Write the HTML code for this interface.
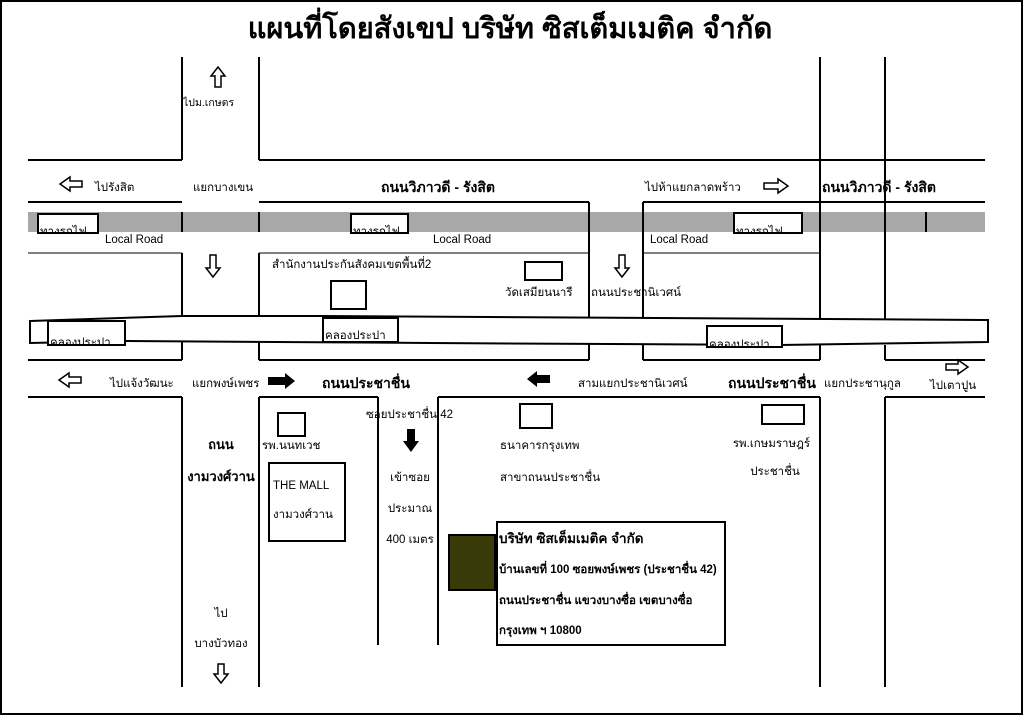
<!DOCTYPE html>
<html><head><meta charset="utf-8"><style>
html,body{margin:0;padding:0;background:#fff}
svg{display:block}
text{font-family:"Liberation Sans","DejaVu Sans",sans-serif;fill:#000}
.s{font-size:11.5px}
.b{font-size:14px;font-weight:bold}
.l{stroke:#000;stroke-width:2;fill:none}
.t{stroke:#000;stroke-width:1;fill:none}
.bx{stroke:#000;stroke-width:2;fill:#fff}
.oa{stroke:#000;stroke-width:1.5;fill:#fff}
</style></head><body>
<svg width="1024" height="717" viewBox="0 0 1024 717">
<rect x="1" y="1" width="1021" height="713" fill="#fff" stroke="#000" stroke-width="2"/>
<text x="510" y="38" text-anchor="middle" style="font-size:29px;font-weight:bold">แผนที่โดยสังเขป  บริษัท ซิสเต็มเมติค จำกัด</text>

<path class="l" d="M182 57V160M259 57V160M820 57V202M885 57V202"/>
<path class="l" d="M28 160H182M259 160H985"/>
<path class="l" d="M28 202H182M259 202H589M643 202H985"/>
<rect x="28" y="212" width="957" height="20" fill="#a8a8a8"/>
<path class="l" d="M182 212V232M259 212V232M589 202V253M643 202V253M820 202V253M885 202V253M926 212V232"/>
<path class="t" d="M28 253H182M259 253H589M643 253H820"/>
<path class="l" d="M182 253V318M259 253V318M589 253V320M643 253V320M820 253V320M885 253V320"/>
<polygon points="30,321 182,316 320,316 985,320 988,320 988,342 780,345 430,343 125,341 30,343" fill="#fff" stroke="#000" stroke-width="2"/>
<path class="l" d="M30 321V343"/>
<path class="l" d="M182 342V360M259 342V360M589 344V360M643 344V360M820 345V360M885 345V360"/>
<path class="l" d="M28 360H182M259 360H589M643 360H820M885 360H985"/>
<path class="l" d="M28 397H182M259 397H378M438 397H820M885 397H985"/>
<path class="l" d="M182 397V687M259 397V687M378 397V645M438 397V645M820 397V687M885 397V687"/>

<svg x="37" y="213" width="62" height="21"><rect x="1" y="1" width="60" height="19" class="bx"/><text x="3" y="22" class="s">ทางรถไฟ</text></svg>
<svg x="350" y="213" width="59" height="21"><rect x="1" y="1" width="57" height="19" class="bx"/><text x="3" y="22" class="s">ทางรถไฟ</text></svg>
<svg x="733" y="212" width="70" height="22"><rect x="1" y="1" width="68" height="20" class="bx"/><text x="3" y="23" class="s">ทางรถไฟ</text></svg>
<text x="105" y="243" class="s">Local  Road</text>
<text x="433" y="243" class="s">Local  Road</text>
<text x="650" y="243" class="s">Local  Road</text>

<svg x="47" y="320" width="79" height="26"><rect x="1" y="1" width="77" height="24" class="bx"/><text x="3" y="26" class="s">คลองประปา</text></svg>
<svg x="322" y="317" width="77" height="26"><rect x="1" y="1" width="75" height="24" class="bx"/><text x="3" y="22" class="s">คลองประปา</text></svg>
<svg x="706" y="325" width="77" height="23"><rect x="1" y="1" width="75" height="21" class="bx"/><text x="3" y="23" class="s">คลองประปา</text></svg>

<path class="oa" d="M60 184L70 177V181H82V187H70V191Z"/>
<text x="95" y="191" class="s">ไปรังสิต</text>
<text x="193" y="191" class="s">แยกบางเขน</text>
<text x="381" y="192" class="b">ถนนวิภาวดี - รังสิต</text>
<text x="645" y="191" class="s">ไปห้าแยกลาดพร้าว</text>
<path class="oa" d="M788 186L778 179V183H764V189H778V193Z"/>
<text x="822" y="192" class="b">ถนนวิภาวดี - รังสิต</text>

<path class="oa" d="M218 67L225 76H221V87H215V76H211Z"/>
<text x="183" y="106" style="font-size:10.5px">ไปม.เกษตร</text>

<path class="oa" d="M213 277L206 268H210V255H216V268H220Z"/>
<path class="oa" d="M622 277L615 268H619V255H625V268H629Z"/>
<text x="272" y="268" class="s">สำนักงานประกันสังคมเขตพื้นที่2</text>
<rect x="331" y="281" width="35" height="28" class="bx"/>
<rect x="525" y="262" width="37" height="18" class="bx"/>
<text x="505" y="296" class="s">วัดเสมียนนารี</text>
<text x="591" y="296" class="s">ถนนประชานิเวศน์</text>

<path class="oa" d="M59 380L69 373V377H81V383H69V387Z"/>
<text x="110" y="387" class="s">ไปแจ้งวัฒนะ</text>
<text x="192" y="387" class="s">แยกพงษ์เพชร</text>
<path d="M295 381L285 373V377H268V385H285V389Z" fill="#000"/>
<text x="322" y="388" class="b">ถนนประชาชื่น</text>
<path d="M527 379L537 371V375H550V383H537V387Z" fill="#000"/>
<text x="578" y="387" class="s">สามแยกประชานิเวศน์</text>
<text x="728" y="388" class="b">ถนนประชาชื่น</text>
<text x="824" y="387" class="s">แยกประชานุกูล</text>
<path class="oa" d="M968 367L958 360V364H946V370H958V374Z"/>
<text x="930" y="389" class="s">ไปเตาปูน</text>

<text x="221" y="449" text-anchor="middle" style="font-size:13px;font-weight:bold">ถนน</text>
<text x="221" y="481" text-anchor="middle" style="font-size:13px;font-weight:bold">งามวงศ์วาน</text>
<rect x="278" y="413" width="27" height="23" class="bx"/>
<text x="262" y="449" class="s">รพ.นนทเวช</text>
<rect x="269" y="463" width="76" height="78" class="bx"/>
<text x="273" y="489" class="s">THE MALL</text>
<text x="273" y="518" class="s">งามวงศ์วาน</text>
<text x="366" y="418" class="s">ซอยประชาชื่น 42</text>
<path d="M411 452L403 441H407V429H415V441H419Z" fill="#000"/>
<text x="410" y="481" text-anchor="middle" class="s">เข้าซอย</text>
<text x="410" y="512" text-anchor="middle" class="s">ประมาณ</text>
<text x="410" y="543" text-anchor="middle" class="s">400 เมตร</text>
<rect x="520" y="404" width="32" height="24" class="bx"/>
<text x="500" y="449" class="s">ธนาคารกรุงเทพ</text>
<text x="500" y="481" class="s">สาขาถนนประชาชื่น</text>
<rect x="762" y="405" width="42" height="19" class="bx"/>
<text x="810" y="447" text-anchor="end" class="s">รพ.เกษมราษฎร์</text>
<text x="775" y="475" text-anchor="middle" class="s">ประชาชื่น</text>
<rect x="449" y="535" width="46" height="55" fill="#3a3a08" stroke="#000" stroke-width="2"/>
<rect x="497" y="522" width="228" height="123" class="bx"/>
<text x="499" y="543" style="font-size:13.5px;font-weight:bold">บริษัท ซิสเต็มเมติค จำกัด</text>
<text x="499" y="573" style="font-size:11.5px;font-weight:bold">บ้านเลขที่ 100 ซอยพงษ์เพชร (ประชาชื่น 42)</text>
<text x="499" y="604" style="font-size:11.5px;font-weight:bold">ถนนประชาชื่น แขวงบางซื่อ เขตบางซื่อ</text>
<text x="499" y="634" style="font-size:11.5px;font-weight:bold">กรุงเทพ ฯ 10800</text>
<text x="221" y="617" text-anchor="middle" class="s">ไป</text>
<text x="221" y="647" text-anchor="middle" class="s">บางบัวทอง</text>
<path class="oa" d="M221 683L214 674H218V664H224V674H228Z"/>
</svg>
</body></html>
